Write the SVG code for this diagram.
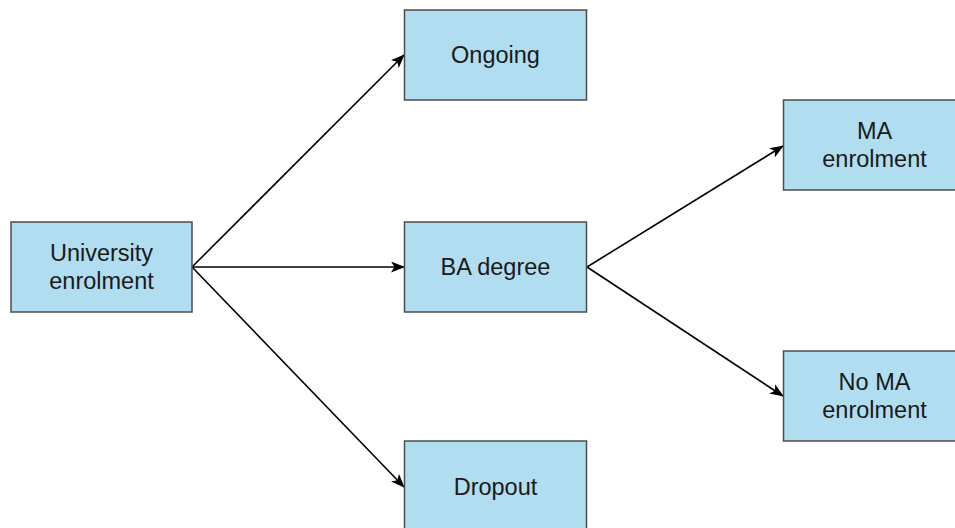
<svg xmlns="http://www.w3.org/2000/svg" width="955" height="528" viewBox="0 0 955 528">
<style>
.box{fill:#b1ddf0;stroke:#4d4d4d;stroke-width:1.5}
.lbl{font-family:"Liberation Sans",Arial,sans-serif;font-size:23.5px;fill:#1a1a1a;text-anchor:middle}
.edge{fill:none;stroke:#000;stroke-width:1.6}
</style>
<defs>
<marker id="arr" viewBox="0 0 14 11" refX="13" refY="5.5" markerWidth="14" markerHeight="11" markerUnits="userSpaceOnUse" orient="auto">
<path d="M0,0 L14,5.5 L0,11 L3.5,5.5 z" fill="#000"/>
</marker>
</defs>
<rect width="955" height="528" fill="#fff"/>
<g id="connectors">
<line class="edge" x1="192" y1="267" x2="404" y2="55" marker-end="url(#arr)"/>
<line class="edge" x1="192" y1="267" x2="404" y2="267" marker-end="url(#arr)"/>
<line class="edge" x1="192" y1="267" x2="404" y2="487" marker-end="url(#arr)"/>
<line class="edge" x1="587" y1="267" x2="783" y2="146" marker-end="url(#arr)"/>
<line class="edge" x1="587" y1="267" x2="783" y2="396" marker-end="url(#arr)"/>
</g>
<g id="university">
<rect class="box" x="11" y="222" width="181" height="90"/>
<text class="lbl" x="101.5" y="261">University</text>
<text class="lbl" x="101.5" y="289">enrolment</text>
</g>
<g id="ongoing">
<rect class="box" x="404.5" y="10" width="182" height="90"/>
<text class="lbl" x="495.5" y="63">Ongoing</text>
</g>
<g id="ba">
<rect class="box" x="404.5" y="222" width="182" height="90"/>
<text class="lbl" x="495.5" y="275">BA degree</text>
</g>
<g id="dropout">
<rect class="box" x="404.5" y="441" width="182" height="90"/>
<text class="lbl" x="495.5" y="495">Dropout</text>
</g>
<g id="ma">
<rect class="box" x="783.5" y="100" width="182" height="90"/>
<text class="lbl" x="874.5" y="139">MA</text>
<text class="lbl" x="874.5" y="167">enrolment</text>
</g>
<g id="noma">
<rect class="box" x="783.5" y="351" width="182" height="90"/>
<text class="lbl" x="874.5" y="390">No MA</text>
<text class="lbl" x="874.5" y="418">enrolment</text>
</g>
</svg>
